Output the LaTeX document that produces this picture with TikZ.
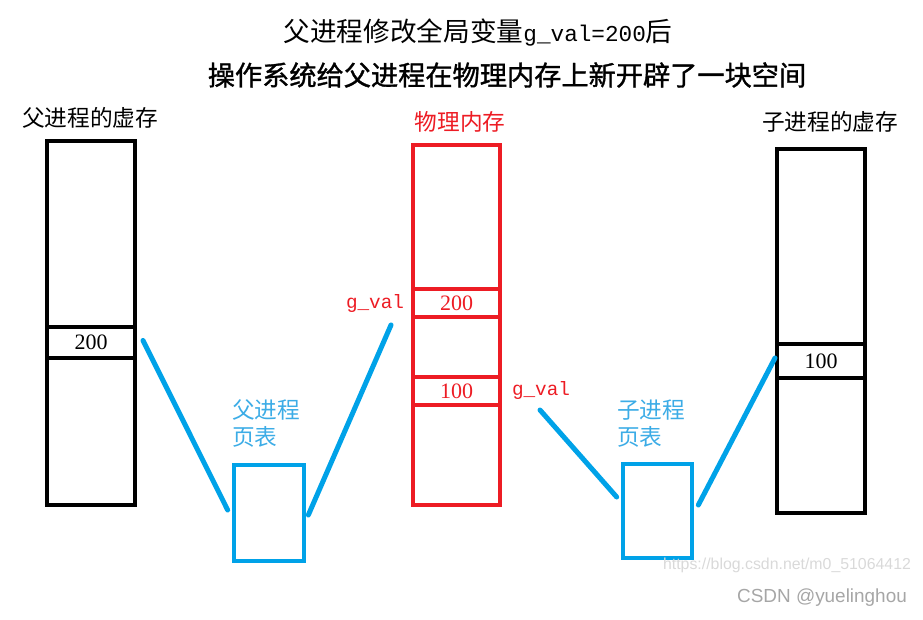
\documentclass[tikz,border=0pt]{standalone}
\usepackage{fontspec}
\setmainfont{Liberation Serif}
\newfontfamily\cjk{Noto Sans CJK SC}
\newfontfamily\cjkheavy[FakeBold=1.2]{Noto Sans CJK SC}
\newfontfamily\monof{Liberation Mono}
\newfontfamily\markfont{Liberation Sans}
\usepackage{tikz}
\usetikzlibrary{positioning}
\definecolor{paintred}{RGB}{237,28,36}
\definecolor{paintblue}{RGB}{0,162,232}
\definecolor{labelblue}{RGB}{60,172,230}

\begin{document}
\begin{tikzpicture}[x=0.75pt, y=-0.75pt,
  mem/.style={draw, line width=3pt, minimum width=66pt, inner sep=0pt},
  cell/.style={mem, font=\fontsize{16.5pt}{18pt}\selectfont},
  ptab/.style={draw=paintblue, line width=3.5pt, minimum width=52.5pt, minimum height=72pt, inner sep=0pt},
  link/.style={paintblue, line width=3.75pt, line cap=round},
  caption/.style={font=\cjk\fontsize{17pt}{20pt}\selectfont},
  varname/.style={paintred, font=\monof\fontsize{14.5pt}{16pt}\selectfont}]

\useasboundingbox (0,0) rectangle (923,620);

% Titols
\node (head) at (478,33)
    {\fontsize{20pt}{24pt}\selectfont\cjk 父进程修改全局变量{\monof\fontsize{17pt}{20pt}\selectfont g\_val=200}后};
\node (subhead) at (507,75)
    {\fontsize{20.4pt}{24pt}\selectfont\cjkheavy 操作系统给父进程在物理内存上新开辟了一块空间};

% Virtual pare
\node[caption] (pvmlabel) at (90,118) {父进程的虚存};
\node[mem, minimum height=273pt] (pvm) at (91,323) {};
\node[cell, minimum height=23.25pt] (pv200) at (91,342.5) {200};

% Memoria fisica
\node[caption, text=paintred] (phmlabel) at (460,122) {物理内存};
\node[mem, draw=paintred, minimum width=65.25pt, minimum height=270pt] (phm) at (456.5,325) {};
\node[cell, draw=paintred, text=paintred, minimum width=65.25pt, minimum height=21pt] (ph200) at (456.5,303) {200};
\node[cell, draw=paintred, text=paintred, minimum width=65.25pt, minimum height=21pt] (ph100) at (456.5,391) {100};
\node[varname] (gv1) at (375,303) {g\_val};
\node[varname] (gv2) at (541,390) {g\_val};

% Virtual fill
\node[caption] (cvmlabel) at (830,122) {子进程的虚存};
\node[mem, minimum height=273pt] (cvm) at (821,331) {};
\node[cell, minimum height=25.5pt] (cv100) at (821,361) {100};

% Taules de pagines
\node[ptab] (ppt) at (269,513) {};
\node[caption, text=labelblue, align=left, anchor=west, inner sep=0pt] (pptlabel) at (232,423.5) {父进程\\页表};
\node[ptab, minimum width=51.75pt, minimum height=70.5pt] (cpt) at (657.5,511) {};
\node[caption, text=labelblue, align=left, anchor=west, inner sep=0pt] (cptlabel) at (617,423.5) {子进程\\页表};

% Enllacos
\draw[link] ([shift={(6,-2)}]pv200.east) -- ([shift={(-4,-3)}]ppt.west);
\draw[link] ([shift={(2,2)}]ppt.east) -- ([shift={(-20,22)}]ph200.west);
\draw[link] ([shift={(38,19)}]ph100.east) -- ([shift={(-4,-14)}]cpt.west);
\draw[link] ([shift={(4,-6)}]cpt.east) -- ([shift={(0,-3)}]cv100.west);

% Marca d'aigua
\node[text=gray!30, font=\markfont\fontsize{11.9pt}{13pt}\selectfont] (wmurl) at (787,565) {https://blog.csdn.net/m0\_51064412};
\node[text=gray!70, font=\markfont\fontsize{14.2pt}{16pt}\selectfont] (wmname) at (822,598) {CSDN @yuelinghou};

\end{tikzpicture}
\end{document}
